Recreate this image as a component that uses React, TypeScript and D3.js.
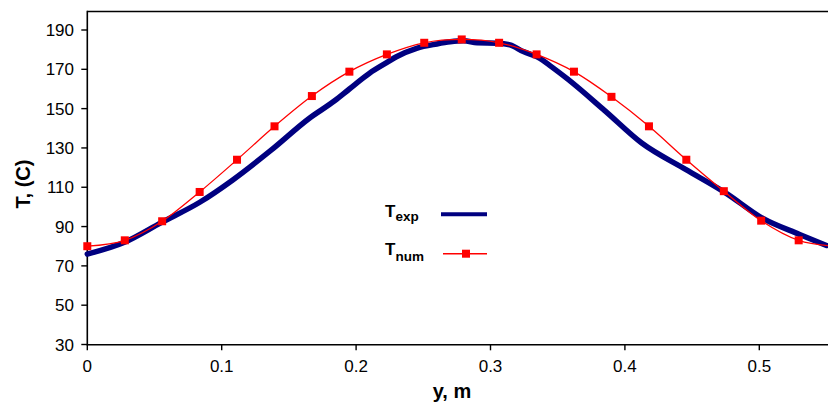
import React from "react";
import * as d3 from "d3";

// ---- data ----
const texpX = [0, 0.0277, 0.055, 0.084, 0.108, 0.137, 0.165, 0.184, 0.195, 0.21, 0.223, 0.23, 0.245, 0.26, 0.27, 0.28, 0.29, 0.305, 0.3145, 0.3244, 0.3368, 0.344, 0.3575, 0.385, 0.4125, 0.4455, 0.4746, 0.503, 0.53, 0.55];
const texpY = [76, 82, 92, 102.5, 113.6, 129, 145, 154, 160, 168, 173.5, 176.4, 180.7, 182.9, 184, 184.5, 183.5, 183.3, 182.4, 179, 175.6, 172, 165, 149, 132.5, 119, 107.3, 94, 86, 80.4];

const tnumX = [0, 0.0279, 0.0557, 0.0836, 0.1114, 0.1393, 0.1671, 0.195, 0.2229, 0.2507, 0.2786, 0.3064, 0.3343, 0.3621, 0.39, 0.4179, 0.4457, 0.4736, 0.5014, 0.5293, 0.5571];
const tnumY = [80, 83, 92.7, 107.6, 124, 141, 156.4, 168.8, 177.6, 183.5, 185.2, 183.5, 177.6, 168.8, 156, 141, 124, 108, 93, 83, 80];

const xTicks = [0, 0.1, 0.2, 0.3, 0.4, 0.5];
const xTickLabels = ["0", "0.1", "0.2", "0.3", "0.4", "0.5"];
const yTicks = [30, 50, 70, 90, 110, 130, 150, 170, 190];

const W = 828;
const H = 404;
const FONT = "'Liberation Sans', Arial, Helvetica, sans-serif";

export default function App() {
  const x = d3.scaleLinear().domain([0, 0.55]).range([87.3, 826.5]);
  const y = d3.scaleLinear().domain([30, 190]).range([344.5, 30]);
  const left = 87.3;
  const bottom = 344.8;
  const top = 11.5;

  const expPts: [number, number][] = texpX.map((v, i) => [x(v), y(texpY[i])]);
  const numPts: [number, number][] = tnumX.map((v, i) => [x(v), y(tnumY[i])]);

  const expLine = d3.line().curve(d3.curveMonotoneX)(expPts) || "";
  const numLine = d3.line().curve(d3.curveCatmullRom.alpha(0))(numPts) || "";

  const ms = 8;

  return (
    <svg
      width={W}
      height={H}
      style={{ position: "absolute", left: 0, top: 0, background: "#fff" }}
      fontFamily={FONT}
    >
      <defs>
        <clipPath id="plotclip">
          <rect x={80} y={0} width={W - 80} height={352} />
        </clipPath>
      </defs>
      <rect x={0} y={0} width={W} height={H} fill="#fff" />

      {/* frame */}
      <line x1={left} x2={W} y1={top} y2={top} stroke="#000" strokeWidth={1.6} />
      <line x1={left} x2={left} y1={top - 0.8} y2={bottom + 0.8} stroke="#000" strokeWidth={1.6} />
      <line x1={left} x2={W} y1={bottom} y2={bottom} stroke="#000" strokeWidth={1.6} />

      {/* y ticks */}
      {yTicks.map((t) => (
        <g key={"y" + t}>
          <line x1={left - 6} x2={left} y1={y(t)} y2={y(t)} stroke="#000" strokeWidth={1.4} />
          <text x={74} y={y(t)} dy="0.36em" textAnchor="end" fontSize={17} fill="#000">
            {t}
          </text>
        </g>
      ))}

      {/* x ticks */}
      {xTicks.map((t, i) => (
        <g key={"x" + t}>
          <line x1={x(t)} x2={x(t)} y1={bottom} y2={bottom + 5.5} stroke="#000" strokeWidth={1.4} />
          <text x={x(t)} y={371.5} textAnchor="middle" fontSize={17} fill="#000">
            {xTickLabels[i]}
          </text>
        </g>
      ))}

      {/* axis titles */}
      <text
        transform={`translate(30,184) rotate(-90)`}
        textAnchor="middle"
        fontSize={20}
        fontWeight="bold"
        fill="#000"
      >
        T, (C)
      </text>
      <text x={452} y={398} textAnchor="middle" fontSize={20} fontWeight="bold" fill="#000">
        y, m
      </text>

      {/* series */}
      <g clipPath="url(#plotclip)">
        <path d={expLine} fill="none" stroke="#000080" strokeWidth={5.5} strokeLinejoin="round" strokeLinecap="round" />
        <path d={numLine} fill="none" stroke="#ff0000" strokeWidth={1.3} />
        {numPts.map((p, i) => (
          <rect key={"m" + i} x={p[0] - ms / 2} y={p[1] - ms / 2} width={ms} height={ms} fill="#ff0000" />
        ))}
      </g>

      {/* legend */}
      <text x={385} y={216.7} fontSize={17} fontWeight="bold" fill="#000">
        T<tspan fontSize={13.5} dy={4.5}>exp</tspan>
      </text>
      <line x1={441} x2={487} y1={214.3} y2={214.3} stroke="#000080" strokeWidth={4} />
      <text x={385} y={255} fontSize={17} fontWeight="bold" fill="#000">
        T<tspan fontSize={13.5} dy={6}>num</tspan>
      </text>
      <line x1={443} x2={487} y1={253.7} y2={253.7} stroke="#ff0000" strokeWidth={1.5} />
      <rect x={466 - ms / 2} y={253.7 - ms / 2} width={ms} height={ms} fill="#ff0000" />
    </svg>
  );
}
